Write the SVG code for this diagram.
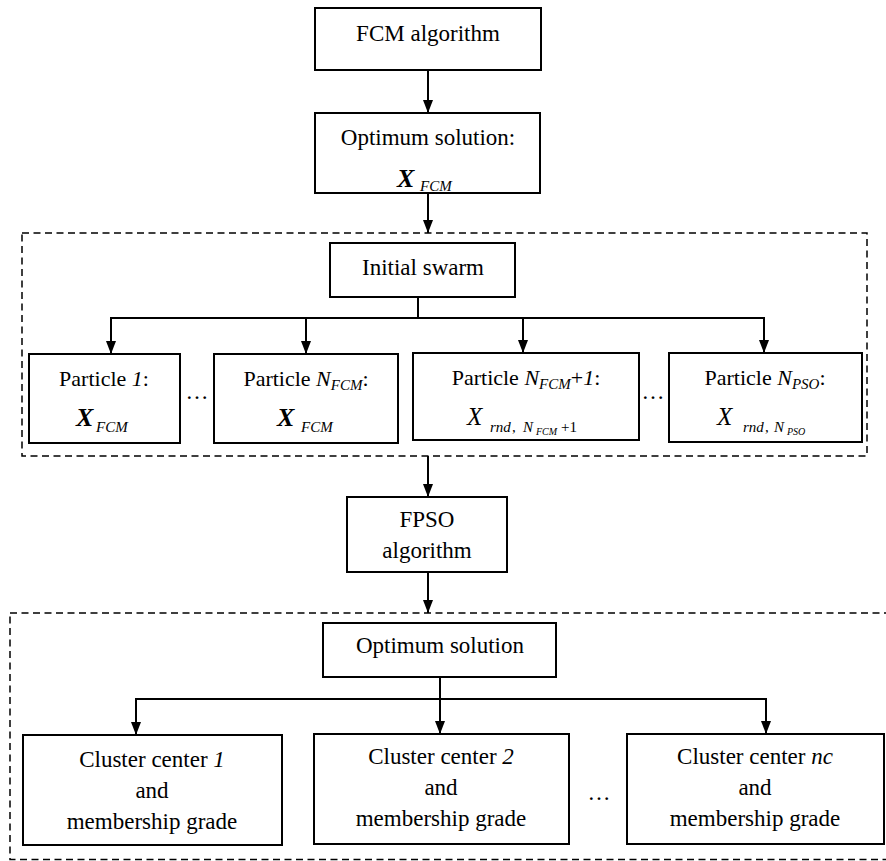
<svg xmlns="http://www.w3.org/2000/svg" width="886" height="861" viewBox="0 0 886 861">
<style>
.box{fill:#fff;stroke:#000;stroke-width:2}
.dash{fill:none;stroke:#000;stroke-width:1.5;stroke-dasharray:7 4.5}
.ln{fill:none;stroke:#000;stroke-width:2}
text{font-family:"Liberation Serif","Times New Roman",serif;fill:#000;font-weight:normal;font-style:normal}
.t{font-size:23px;text-anchor:middle}
.tp{font-size:22px;text-anchor:middle}
.i{font-style:italic}
.X{font-size:26px;font-weight:bold;font-style:italic}
.Xr{font-size:25px;font-style:italic}
.s{font-size:15px;font-style:italic}
.ss{font-size:10px;font-style:italic}
.u{font-size:15px}
</style>
<defs>
<marker id="ah" viewBox="0 0 13 10" refX="13" refY="5" markerWidth="13" markerHeight="10" markerUnits="userSpaceOnUse" orient="auto">
<path d="M0,0 L13,5 L0,10 z" fill="#000"/>
</marker>
</defs>
<rect width="886" height="861" fill="#fff"/>

<g id="groups">
<rect class="dash" x="22" y="233" width="845" height="223"/>
<rect class="dash" x="10" y="613" width="880" height="246.5"/>
</g>

<g id="connectors">
<line class="ln" x1="428" y1="70" x2="428" y2="113" marker-end="url(#ah)"/>
<line class="ln" x1="428" y1="193" x2="428" y2="233" marker-end="url(#ah)"/>
<polyline class="ln" points="418,297 418,318"/>
<line class="ln" x1="111" y1="318" x2="764" y2="318"/>
<line class="ln" x1="111" y1="317" x2="111" y2="354" marker-end="url(#ah)"/>
<line class="ln" x1="306" y1="318" x2="306" y2="354" marker-end="url(#ah)"/>
<line class="ln" x1="523" y1="318" x2="523" y2="353" marker-end="url(#ah)"/>
<line class="ln" x1="764" y1="317" x2="764" y2="353" marker-end="url(#ah)"/>
<line class="ln" x1="428" y1="456" x2="428" y2="497" marker-end="url(#ah)"/>
<line class="ln" x1="428" y1="572" x2="428" y2="613" marker-end="url(#ah)"/>
<line class="ln" x1="440" y1="677" x2="440" y2="699"/>
<line class="ln" x1="136" y1="699" x2="766" y2="699"/>
<line class="ln" x1="136" y1="698" x2="136" y2="735" marker-end="url(#ah)"/>
<line class="ln" x1="440" y1="699" x2="440" y2="734" marker-end="url(#ah)"/>
<line class="ln" x1="766" y1="698" x2="766" y2="734" marker-end="url(#ah)"/>
</g>

<g id="fcm">
<rect class="box" x="315" y="8" width="226" height="62"/>
<text class="t" x="428" y="41">FCM algorithm</text>
</g>

<g id="opt1">
<rect class="box" x="315" y="113" width="225" height="80"/>
<text class="t" x="428" y="145">Optimum solution:</text>
<text class="X" x="397" y="187">X</text>
<text class="s" x="420" y="191">FCM</text>
</g>

<g id="swarm">
<rect class="box" x="330" y="243" width="185" height="54"/>
<text class="t" x="423" y="275">Initial swarm</text>
</g>

<g id="p1">
<rect class="box" x="29" y="354" width="151" height="89"/>
<text class="tp" x="104" y="386">Particle <tspan class="i">1</tspan>:</text>
<text class="X" x="76" y="426">X</text>
<text class="s" x="96" y="432">FCM</text>
</g>

<g id="p2">
<rect class="box" x="214" y="354" width="184" height="89"/>
<text class="tp" x="306" y="386">Particle <tspan class="i">N</tspan><tspan class="i" font-size="15" dy="4">FCM</tspan><tspan dy="-4">:</tspan></text>
<text class="X" x="277" y="426">X</text>
<text class="s" x="301" y="432">FCM</text>
</g>

<g id="p3">
<rect class="box" x="413" y="353" width="226" height="87"/>
<text class="tp" x="526" y="385">Particle <tspan class="i">N</tspan><tspan class="i" font-size="15" dy="4">FCM</tspan><tspan dy="-4">+</tspan><tspan class="i">1</tspan>:</text>
<text class="Xr" x="467" y="425">X</text>
<text class="s" x="490" y="432">rnd</text>
<text class="u" x="512" y="432">,</text>
<text class="s" x="523" y="432">N</text>
<text class="ss" x="536" y="435">FCM</text>
<text class="u" x="561" y="432">+1</text>
</g>

<g id="p4">
<rect class="box" x="669" y="353" width="193" height="89"/>
<text class="tp" x="765" y="385">Particle <tspan class="i">N</tspan><tspan class="i" font-size="15" dy="4">PSO</tspan><tspan dy="-4">:</tspan></text>
<text class="Xr" x="717" y="425">X</text>
<text class="s" x="743" y="432">rnd</text>
<text class="u" x="765" y="432">,</text>
<text class="s" x="774" y="432">N</text>
<text class="ss" x="787" y="435">PSO</text>
</g>

<g id="dots">
<text class="t" x="197" y="399">…</text>
<text class="t" x="653" y="399">…</text>
<text class="t" x="599" y="800">…</text>
</g>

<g id="fpso">
<rect class="box" x="347" y="497" width="160" height="75"/>
<text class="t" x="427" y="527">FPSO</text>
<text class="t" x="427" y="558">algorithm</text>
</g>

<g id="opt2">
<rect class="box" x="323" y="623" width="233" height="54"/>
<text class="t" x="440" y="653">Optimum solution</text>
</g>

<g id="c1">
<rect class="box" x="23" y="735" width="259" height="110"/>
<text class="t" x="152" y="767">Cluster center <tspan class="i">1</tspan></text>
<text class="t" x="152" y="798">and</text>
<text class="t" x="152" y="829">membership grade</text>
</g>

<g id="c2">
<rect class="box" x="314" y="734" width="255" height="110"/>
<text class="t" x="441" y="764">Cluster center <tspan class="i">2</tspan></text>
<text class="t" x="441" y="795">and</text>
<text class="t" x="441" y="826">membership grade</text>
</g>

<g id="c3">
<rect class="box" x="627" y="734" width="257" height="110"/>
<text class="t" x="755" y="764">Cluster center <tspan class="i">nc</tspan></text>
<text class="t" x="755" y="795">and</text>
<text class="t" x="755" y="826">membership grade</text>
</g>
</svg>
